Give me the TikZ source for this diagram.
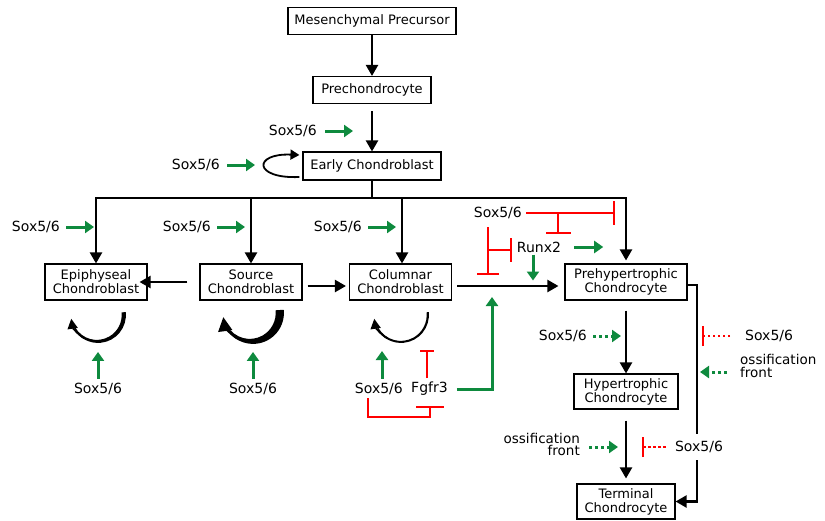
\documentclass[tikz,border=0pt]{standalone}
\usepackage{fontspec}
\setmainfont{DejaVu Sans}
\usetikzlibrary{arrows.meta,calc}
\definecolor{gr}{HTML}{0E8A3E}
\newcommand\cresloop[5]{%
  \pgfmathsetmacro\Ro{#3+0.9}%
  \pgfmathsetmacro\Ri{#3-0.9-#4}%
  \pgfmathsetmacro\Ci{#1-#4}%
  \fill ({#1+\Ro*cos(-6)},{#2+\Ro*sin(-6)}) arc[start angle=-6,end angle=150,radius=\Ro]
     -- ({\Ci+\Ri*cos(150)},{#2+\Ri*sin(150)}) arc[start angle=150,end angle=-6,radius=\Ri] -- cycle;
  \draw[line width=1.8pt,-{Triangle[length=#5,width=#5]}] ({#1+#3*cos(120)},{#2+#3*sin(120)}) arc[start angle=120,end angle=172,radius=#3];
}
\begin{document}
\begin{tikzpicture}[x=1pt,y=-1pt,
  box/.style={draw, line width=1.1pt, align=center, inner sep=0pt, font=\fontsize{13}{14}\selectfont},
  lab/.style={inner sep=1pt, font=\fontsize{14}{14}\selectfont},
  blk/.style={draw=black, line width=2.2pt, -{Triangle[length=11pt,width=12pt]}},
  garr/.style={draw=gr, line width=3pt, -{Triangle[length=9pt,width=12pt]}},
  gdot/.style={garr, dash pattern=on 3pt off 3pt},
  rinh/.style={draw=red, line width=2.4pt, -{Bar[width=#1]}}, rinh/.default=22pt,
  rdot/.style={rinh=#1, dash pattern=on 2.5pt off 2.5pt}, rdot/.default=20pt]
\fill[white] (0,0) rectangle (825,520);
\useasboundingbox (0,0) rectangle (825,520);

% boxes
\node[box, minimum width=168pt, minimum height=27pt] (mes) at (372,21) {Mesenchymal Precursor};
\node[box, minimum width=118pt, minimum height=27pt] (prc) at (372,90) {Prechondrocyte};
\node[box, minimum width=138pt, minimum height=28pt] (ear) at (372,166) {Early Chondroblast};
\node[box, minimum width=102pt, minimum height=36pt] (epi) at (96,282) {Epiphyseal\\Chondroblast};
\node[box, minimum width=102pt, minimum height=36pt] (src) at (251,282) {Source\\Chondroblast};
\node[box, minimum width=102pt, minimum height=36pt] (col) at (400.5,282) {Columnar\\Chondroblast};
\node[box, minimum width=122pt, minimum height=36pt] (phc) at (626,282) {Prehypertrophic\\Chondrocyte};
\node[box, minimum width=104pt, minimum height=35pt] (hyc) at (626,391.5) {Hypertrophic\\Chondrocyte};
\node[box, minimum width=98pt, minimum height=35pt] (tec) at (626,501.5) {Terminal\\Chondrocyte};

% main vertical path
\draw[blk] (mes) -- (prc);
\draw[blk] ([yshift=-7pt]prc.south) -- (ear.north);
\node[lab, anchor=east] (s1) at (318,131) {Sox5/6};
\draw[garr] ([xshift=7pt]s1.east) -- ++(28,0);

% early chondroblast self loop
\node[lab, anchor=east] (s2) at (221,165) {Sox5/6};
\draw[garr] ([xshift=6pt]s2.east) -- ++(28,0);
\draw[line width=1.8pt, -{Triangle[length=9pt,width=10pt]}] ([xshift=-3pt,yshift=-11pt]ear.west) .. controls (253,179) and (253,153) .. ([xshift=-3pt,yshift=11pt]ear.west);

% branching
\coordinate (br) at (372,198);
\draw[line width=2.2pt] (ear.south) -- (br);
\draw[line width=2.2pt, line cap=rect] (epi.north |- br) -- (phc.north |- br);
\draw[blk] (epi.north |- br) -- (epi.north);
\draw[blk] (src.north |- br) -- (src.north);
\draw[blk] ([xshift=1.5pt]col.north |- br) -- ([xshift=1.5pt]col.north);
\draw[blk] (phc.north |- br) -- ([yshift=3pt]phc.north);
\node[lab, anchor=east] (s3) at (61,227) {Sox5/6};
\draw[garr] ([xshift=5pt]s3.east) -- ++(28,0);
\node[lab, anchor=east] (s4) at (212,227) {Sox5/6};
\draw[garr] ([xshift=5pt]s4.east) -- ++(28,0);
\node[lab, anchor=east] (s5) at (363,227) {Sox5/6};
\draw[garr] ([xshift=5pt]s5.east) -- ++(28,0);

% horizontal arrows
\draw[blk] ([xshift=-12pt]src.west) -- ([xshift=-8pt]epi.east);
\draw[blk] ([xshift=5pt,yshift=-4pt]src.east) -- ([xshift=-3pt,yshift=-4pt]col.west);
\draw[blk] ([xshift=5pt,yshift=-4pt]col.east) -- ([xshift=-6pt,yshift=-4pt]phc.west);

% self-renewal loops
\cresloop{98}{315}{27}{1.2}{10pt}
\cresloop{253}{313}{30}{3.2}{14pt}
\cresloop{401}{315}{27}{0.2}{10pt}

% bottom regulators
\node[lab] (s6) at (98,389) {Sox5/6};
\draw[garr] ([yshift=3pt]s6.north) -- ++(0,-27);
\node[lab] (s7) at (253,389) {Sox5/6};
\draw[garr] ([yshift=3pt]s7.north) -- ++(0,-27);
\node[lab, anchor=east] (s8) at (404,389) {Sox5/6};
\node[lab, anchor=west] (fg) at (410,389) {Fgfr3};
\coordinate (gu) at (382,351);
\draw[garr] (s8.north -| gu) ++(0,-3) -- (gu);
\coordinate (ru) at (427,350);
\draw[rinh=14pt] ([yshift=3pt]fg.north -| ru) -- (ru);
\coordinate (b1) at (368,417);
\coordinate (b2) at (430,406);
\draw[rinh=28pt] ([yshift=-2pt]s8.south -| b1) -- (b1) -| (b2);
\coordinate (gt) at (492,297);
\draw[garr] ([xshift=8pt]fg.east) -| (gt);

% Runx2 region
\node[lab] (rx) at (539,247) {Runx2};
\node[lab, anchor=east] (s9) at (523,213) {Sox5/6};
\coordinate (t1) at (615,213);
\draw[rinh=24pt] ([xshift=3pt]s9.east) -- (t1);
\coordinate (t2a) at (558,213);
\coordinate (t2) at (558,234);
\draw[rinh=25pt] (t2a) -- (t2);
\coordinate (v1) at (488,227);
\coordinate (v2) at (488,275);
\draw[rinh=22pt] (v1) -- (v2);
\coordinate (h1) at (488,250);
\coordinate (h2) at (512,250);
\draw[rinh=24pt] (h1) -- (h2);
\draw[garr] ([xshift=12pt]rx.east) -- ++(29,0);
\draw[garr] ([xshift=-6pt,yshift=-1pt]rx.south) -- ++(0,26);

% late stages
\draw[blk] ([yshift=-10pt]phc.south) -- (hyc.north);
\draw[blk] ([yshift=-11pt]hyc.south) -- ([yshift=5pt]tec.north);
\coordinate (rc) at (697,400);
\draw[blk] ([yshift=-3pt]phc.east) -| (rc) |- (tec.east);

\node[lab, anchor=east] (s10) at (588,336) {Sox5/6};
\coordinate (d1) at (621,336);
\draw[gdot] ([xshift=5pt]s10.east) -- (d1);
\node[lab, anchor=west] (s11) at (744,336) {Sox5/6};
\coordinate (d2) at (702,336);
\draw[rdot] ([xshift=-14pt]s11.west) -- (d2);
\node[lab, anchor=west, align=left, font=\fontsize{13.5}{12.5}\selectfont] (of1) at (739,366) {ossification\\front};
\coordinate (d3) at (700,372);
\draw[gdot] ([xshift=-12pt,yshift=-6pt]of1.west) -- (d3);

\node[lab, anchor=east, align=right, font=\fontsize{13.5}{12}\selectfont] (of2) at (581,444) {ossification\\front};
\coordinate (d4) at (618,447);
\draw[gdot] ([xshift=8pt,yshift=-3pt]of2.east) -- (d4);
\node[lab, fill=white, inner ysep=7pt] (s12) at (699,447) {Sox5/6};
\coordinate (d5) at (642,447);
\draw[rdot] ([xshift=-8pt]s12.west) -- (d5);
\end{tikzpicture}
\end{document}
